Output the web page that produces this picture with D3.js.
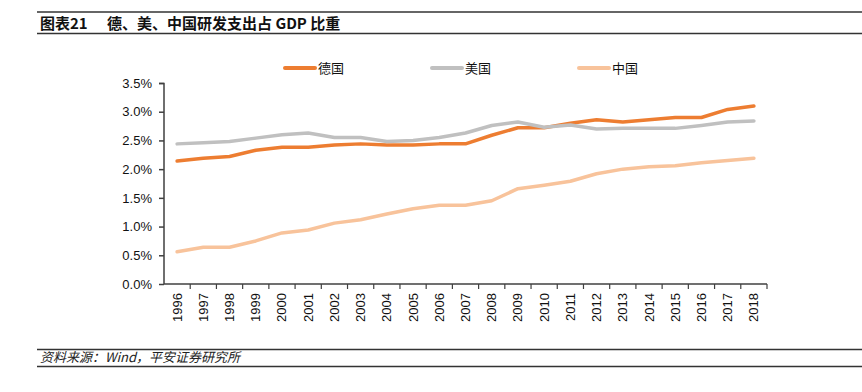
<!DOCTYPE html>
<html>
<head>
<meta charset="utf-8">
<script src="https://cdn.jsdelivr.net/npm/d3@7"></script>
<style>
    body { margin: 0; background: #fff; }
    text { font-family: "Liberation Sans", Arial, "Noto Sans CJK SC", sans-serif; }
</style>
</head>
<body>
<div id="wrapper"></div>
<script>
const years = ["1996", "1997", "1998", "1999", "2000", "2001", "2002", "2003", "2004", "2005", "2006", "2007",
    "2008", "2009", "2010", "2011", "2012", "2013", "2014", "2015", "2016", "2017", "2018"]
const germany = [2.14, 2.19, 2.22, 2.33, 2.38, 2.38, 2.42, 2.44, 2.42, 2.42, 2.44, 2.44,
    2.59, 2.72, 2.72, 2.80, 2.86, 2.82, 2.86, 2.90, 2.90, 3.04, 3.10]
const usa = [2.44, 2.46, 2.48, 2.54, 2.60, 2.63, 2.55, 2.55, 2.48, 2.50, 2.55, 2.63,
    2.76, 2.82, 2.73, 2.77, 2.70, 2.71, 2.71, 2.71, 2.76, 2.82, 2.84]
const china = [0.56, 0.64, 0.64, 0.75, 0.89, 0.94, 1.06, 1.12, 1.22, 1.31, 1.37, 1.37,
    1.45, 1.66, 1.72, 1.79, 1.92, 2.00, 2.04, 2.06, 2.11, 2.15, 2.19]
const yTicks = [0, 0.5, 1.0, 1.5, 2.0, 2.5, 3.0, 3.5]
const seriesNames = ["德国", "美国", "中国"]
const titleText = "图表21"
const subtitleText = "德、美、中国研发支出占 GDP 比重"
const sourceText = "资料来源：Wind，平安证券研究所"

const colors = ["#ED7D31", "#C0C0C0", "#F8C39B"]
const seriesData = [germany, usa, china]

let dimensions = {
    width: 862,
    height: 392,
    margin: { top: 83, right: 95, bottom: 108, left: 164 },
}
dimensions.boundedWidth = dimensions.width - dimensions.margin.left - dimensions.margin.right
dimensions.boundedHeight = dimensions.height - dimensions.margin.top - dimensions.margin.bottom

const wrapper = d3.select("#wrapper")
    .append("svg")
    .attr("width", dimensions.width)
    .attr("height", dimensions.height)

// title and footer rules
const rules = [12, 33.5, 349.5, 366.5]
wrapper.selectAll(".rule")
    .data(rules)
    .enter()
    .append("line")
    .attr("class", "rule")
    .attr("x1", 37)
    .attr("x2", 862)
    .attr("y1", d => d)
    .attr("y2", d => d)
    .attr("stroke", "#333")
    .attr("stroke-width", 1.5)

const title = wrapper.append("text")
    .attr("x", 40)
    .attr("y", 28.5)
    .attr("font-size", 15)
    .attr("font-weight", "bold")
    .attr("fill", "#111")
    .style("font-family", "'Noto Sans CJK SC', sans-serif")
title.append("tspan").text(titleText)
title.append("tspan").attr("x", 107).text(subtitleText)

wrapper.append("text")
    .attr("x", 40)
    .attr("y", 362)
    .attr("font-size", 13)
    .attr("font-style", "italic")
    .attr("fill", "#222")
    .style("font-family", "'Noto Sans CJK SC', sans-serif")
    .text(sourceText)

const bounds = wrapper.append("g")
    .attr("transform", `translate(${dimensions.margin.left},${dimensions.margin.top})`)

const xScale = d3.scaleBand()
    .domain(years)
    .range([0, dimensions.boundedWidth])

const yScale = d3.scaleLinear()
    .domain([0, 3.5])
    .range([dimensions.boundedHeight, 0])

// y axis
const yAxis = bounds.append("g")
    .call(d3.axisLeft(yScale)
        .tickValues(yTicks)
        .tickSize(5)
        .tickPadding(7)
        .tickFormat(d => d.toFixed(1) + "%"))
yAxis.selectAll("path, line").attr("stroke", "#404040").attr("stroke-width", 1.5)
yAxis.select(".domain").attr("d", `M-5,0.5H0V${dimensions.boundedHeight}`)
yAxis.selectAll("text").attr("font-size", 13).attr("fill", "#111")
    .style("font-family", "'Liberation Sans', Arial, sans-serif")

// x axis, ticks sit between categories
const xAxis = bounds.append("g")
    .attr("transform", `translate(0,${dimensions.boundedHeight})`)
xAxis.append("line")
    .attr("x1", 0)
    .attr("x2", dimensions.boundedWidth)
    .attr("stroke", "#404040")
    .attr("stroke-width", 1.5)
xAxis.selectAll(".xtick")
    .data(years)
    .enter()
    .append("line")
    .attr("class", "xtick")
    .attr("x1", d => xScale(d) + xScale.bandwidth())
    .attr("x2", d => xScale(d) + xScale.bandwidth())
    .attr("y1", 0)
    .attr("y2", 5)
    .attr("stroke", "#404040")
    .attr("stroke-width", 1.2)
xAxis.selectAll(".xlabel")
    .data(years)
    .enter()
    .append("text")
    .attr("class", "xlabel")
    .attr("transform", d => `translate(${xScale(d) + xScale.bandwidth() / 2 + 4.5},9) rotate(-90)`)
    .attr("text-anchor", "end")
    .attr("font-size", 13)
    .attr("fill", "#111")
    .text(d => d)

// lines
const lineGenerator = d3.line()
    .x((d, i) => xScale(years[i]) + xScale.bandwidth() / 2)
    .y(d => yScale(d))

bounds.selectAll(".series")
    .data(seriesData)
    .enter()
    .append("path")
    .attr("class", "series")
    .attr("d", lineGenerator)
    .attr("fill", "none")
    .attr("stroke", (d, i) => colors[i])
    .attr("stroke-width", 3.5)
    .attr("stroke-linejoin", "round")
    .attr("stroke-linecap", "round")

// legend
const legendX = [285, 432, 579]
const legend = wrapper.selectAll(".legend")
    .data(seriesNames)
    .enter()
    .append("g")
    .attr("class", "legend")
    .attr("transform", (d, i) => `translate(${legendX[i]},68)`)
legend.append("line")
    .attr("x1", 0)
    .attr("x2", 30)
    .attr("stroke", (d, i) => colors[i])
    .attr("stroke-width", 4)
    .attr("stroke-linecap", "round")
legend.append("text")
    .attr("x", 33)
    .attr("y", 4.5)
    .attr("font-size", 13)
    .attr("fill", "#111")
    .style("font-family", "'Noto Sans CJK SC', sans-serif")
    .text(d => d)
</script>
</body>
</html>
